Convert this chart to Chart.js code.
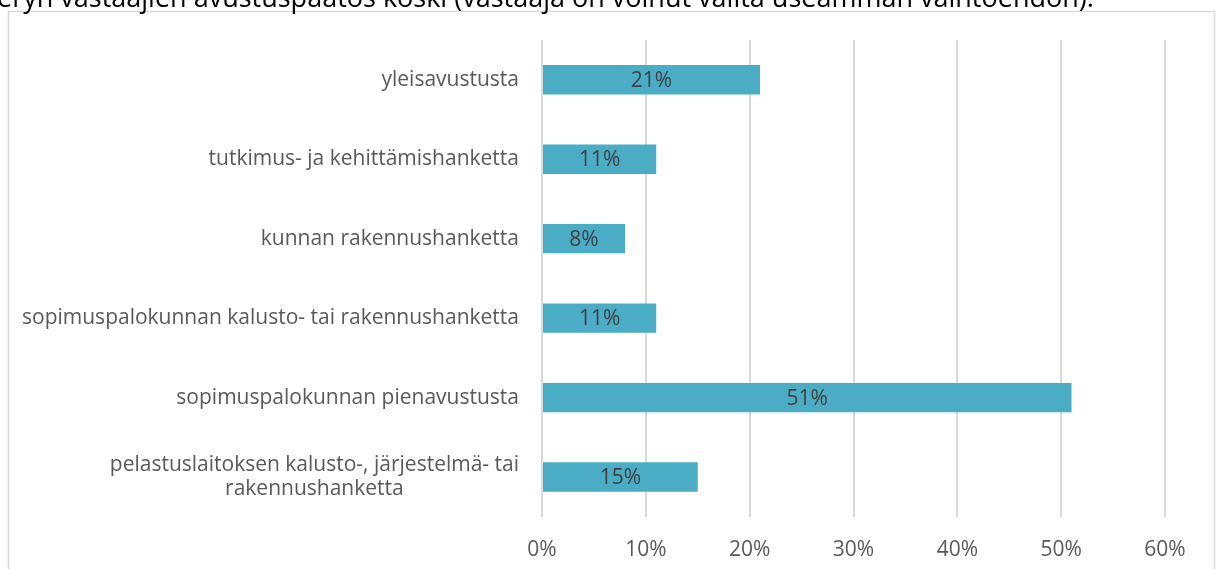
<!DOCTYPE html>
<html>
<head>
<meta charset="utf-8">
<title>Avustuspäätökset</title>
<script src="https://cdn.jsdelivr.net/npm/chart.js@4.4.1/dist/chart.umd.min.js"></script>
<style>
  html, body { margin: 0; padding: 0; background: #ffffff; overflow: hidden; }
  #wrap { position: relative; width: 1217px; height: 569px; }
</style>
</head>
<body>
<div id="wrap"><canvas id="myBarGraph" width="1217" height="569"></canvas></div>
<script>
var captionText = "eryn vastaajien avustuspäätös koski (vastaaja on voinut valita useamman vaihtoehdon).";

var categories = [
    "yleisavustusta",
    "tutkimus- ja kehittämishanketta",
    "kunnan rakennushanketta",
    "sopimuspalokunnan kalusto- tai rakennushanketta",
    "sopimuspalokunnan pienavustusta",
    ["pelastuslaitoksen kalusto-, järjestelmä- tai", "rakennushanketta"]
];
var shares = [21, 11, 8, 11, 51, 15];
var xTicks = [0, 10, 20, 30, 40, 50, 60];

var fontName = "'Open Sans', sans-serif";
var labelSize = 21;

// frame round the chart plus the cut-off caption line above it
var framePlugin = {
    id: 'frame',
    beforeDraw: function(chart) {
        var ctx = chart.ctx;
        ctx.save();
        ctx.fillStyle = '#ffffff';
        ctx.fillRect(0, 0, chart.width, chart.height);
        ctx.strokeStyle = '#d9d9d9';
        ctx.lineWidth = 1.5;
        ctx.strokeRect(8.5, 11.5, 1206, 600);
        ctx.fillStyle = '#000000';
        ctx.font = '27px ' + fontName;
        ctx.textAlign = 'left';
        ctx.textBaseline = 'alphabetic';
        ctx.fillText(captionText, -3, 7);
        ctx.restore();
    }
};

// category names on the left, drawn at the y scale positions
var categoryLabels = {
    id: 'categoryLabels',
    afterDraw: function(chart) {
        var ctx = chart.ctx;
        var yScale = chart.scales.y;
        var rightX = chart.chartArea.left - 23;
        ctx.save();
        ctx.font = labelSize + 'px ' + fontName;
        ctx.fillStyle = '#595959';
        ctx.textBaseline = 'middle';
        categories.forEach(function(label, i) {
            var y = yScale.getPixelForValue(i);
            if (Array.isArray(label)) {
                // wrapped label: lines centred under the widest one
                var widest = 0;
                label.forEach(function(l) { widest = Math.max(widest, ctx.measureText(l).width); });
                var cx = rightX - widest / 2;
                var lh = 24;
                var y0 = y - (label.length - 1) * lh / 2;
                ctx.textAlign = 'center';
                label.forEach(function(l, k) { ctx.fillText(l, cx, y0 + k * lh); });
            } else {
                ctx.textAlign = 'right';
                ctx.fillText(label, rightX, y);
            }
        });
        ctx.restore();
    }
};

// percentage written in the middle of each bar
var barValues = {
    id: 'barValues',
    afterDatasetsDraw: function(chart) {
        var ctx = chart.ctx;
        var meta = chart.getDatasetMeta(0);
        ctx.save();
        ctx.font = labelSize + 'px ' + fontName;
        ctx.fillStyle = '#404040';
        ctx.textAlign = 'center';
        ctx.textBaseline = 'middle';
        meta.data.forEach(function(bar, i) {
            ctx.fillText(shares[i] + '%', (bar.x + bar.base) / 2, bar.y + 1);
        });
        ctx.restore();
    }
};

var graphID = document.getElementById("myBarGraph").getContext("2d");

var graphConfig = {
    type: 'bar',
    data: {
        labels: categories,
        datasets: [{
            data: shares,
            backgroundColor: '#4bacc6',
            borderWidth: 0,
            categoryPercentage: 1,
            barPercentage: 0.37
        }]
    },
    options: {
        indexAxis: 'y',
        responsive: false,
        animation: false,
        layout: { padding: { left: 542, right: 52, top: 40, bottom: -15 } },
        plugins: {
            legend: { display: false },
            tooltip: { enabled: false }
        },
        scales: {
            x: {
                min: 0,
                max: 60,
                afterBuildTicks: function(axis) {
                    axis.ticks = xTicks.map(function(v) { return { value: v }; });
                },
                grid: { color: '#d9d9d9', lineWidth: 2, drawTicks: false },
                border: { display: false },
                ticks: {
                    padding: 21,
                    color: '#595959',
                    font: { family: fontName, size: labelSize },
                    callback: function(v) { return v + '%'; }
                }
            },
            y: {
                display: false
            }
        }
    },
    plugins: [framePlugin, categoryLabels, barValues]
};

var myChart = new Chart(graphID, graphConfig);
</script>
</body>
</html>
